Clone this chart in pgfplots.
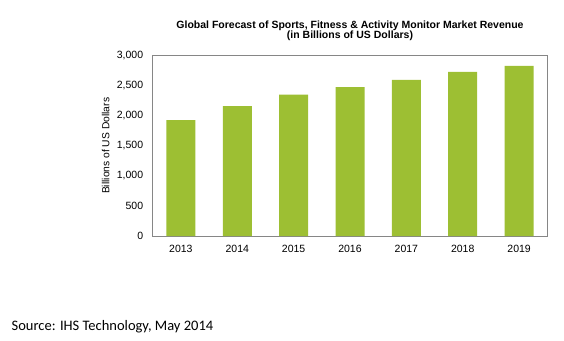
\documentclass[border=0pt]{standalone}
\usepackage{fontspec}
\setmainfont{Liberation Sans}
\newfontfamily\calibri{Carlito}
\usepackage{pgfplots}
\pgfplotsset{compat=1.18}
\definecolor{bargreen}{HTML}{9DBF33}
\definecolor{framegray}{HTML}{868686}
\begin{document}
\begin{tikzpicture}[x=1pt,y=1pt]
\useasboundingbox (0,0) rectangle (564,340);
\begin{axis}[
  at={(152.7pt,104pt)}, anchor=south west,
  scale only axis, width=394.6pt, height=180.3pt,
  xmin=-0.5, xmax=6.5, ymin=0, ymax=3000,
  ytick={0,500,...,3000},
  xtick={0,...,6},
  xticklabels={2013,2014,2015,2016,2017,2018,2019},
  major tick length=0pt,
  axis line style={framegray, line width=0.8pt},
  /pgf/number format/assume math mode=true,
  /pgf/number format/1000 sep={,},
  ticklabel style={font=\fontsize{10.5}{12}\selectfont, text=black},
  yticklabel style={xshift=-6pt},
  xticklabel style={yshift=-6pt},
  ylabel={Billions of US Dollars},
  ylabel style={font=\fontsize{10.3}{12}\selectfont, at={(axis description cs:-0.119,0.5)}, anchor=center},
  title={\textbf{Global Forecast of Sports, Fitness \& Activity Monitor Market Revenue}\\\textbf{(in Billions of US Dollars)}},
  title style={font=\fontsize{10.5}{10.5}\selectfont, align=center, at={(axis description cs:0.5,1)}, anchor=south, yshift=5pt},
  ybar, bar width=29pt,
]
\addplot[fill=bargreen, draw=none] coordinates {
  (0,1930) (1,2163) (2,2352) (3,2479) (4,2596) (5,2729) (6,2829)
};
\end{axis}
\node[anchor=west, font=\calibri\fontsize{14.5}{16}\selectfont, inner sep=0pt] at (11.5,13.3) {Source: IHS Technology, May 2014};
\end{tikzpicture}
\end{document}
